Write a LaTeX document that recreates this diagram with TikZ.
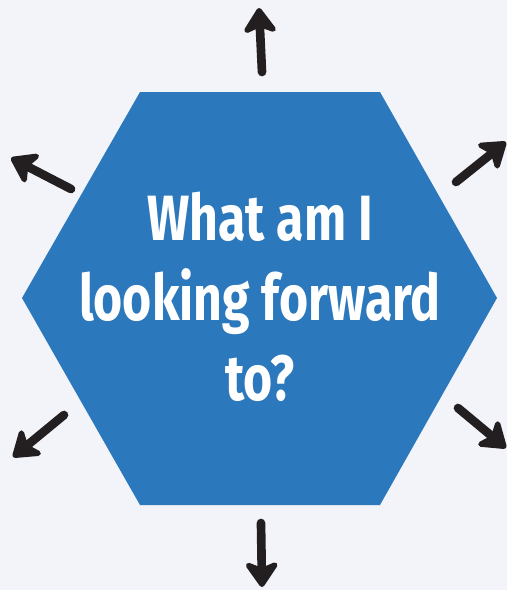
\documentclass[tikz,border=0pt]{standalone}
\usepackage{fontspec}
\usetikzlibrary{arrows.meta}
\newfontfamily\hexfont[FakeStretch=0.78]{Fira Sans}
\definecolor{bgcol}{HTML}{F3F4F9}
\definecolor{hexblue}{HTML}{2C78BD}
\definecolor{inkblack}{HTML}{231F20}
\tikzset{
  question/.style={inner sep=0pt, text=white, align=center,
    font=\hexfont\bfseries\fontsize{48}{60}\selectfont},
  outarrow/.style={draw=inkblack, line width=6.5pt, line cap=round,
    -{Stealth[length=22pt, width=30pt, inset=6pt, round]}}
}

\begin{document}
\begin{tikzpicture}[x=0.75pt, y=-0.75pt]
\fill[bgcol] (0,0) rectangle (507,590);
\useasboundingbox (0,0) rectangle (507,590);
% hexagon
\fill[hexblue] (140,92) -- (380,92) -- (497,298) -- (380,505) -- (140,505) -- (22,298) -- cycle;
\node[question] (q) at (260,297) {What am I\\looking forward\\to?};
% arrow ends
\coordinate (nT) at (262,72);
\coordinate (nH) at (259,8);
\coordinate (nwT) at (71,189);
\coordinate (nwH) at (11,158);
\coordinate (neT) at (456,182);
\coordinate (neH) at (506,142);
\coordinate (swT) at (64,415);
\coordinate (swH) at (13,457);
\coordinate (seT) at (458,408);
\coordinate (seH) at (506,448);
\coordinate (sT) at (261,523);
\coordinate (sH) at (262,587);
\draw[outarrow] (nT) -- (nH);
\draw[outarrow] (nwT) -- (nwH);
\draw[outarrow] (neT) -- (neH);
\draw[outarrow] (swT) -- (swH);
\draw[outarrow] (seT) -- (seH);
\draw[outarrow] (sT) -- (sH);
\end{tikzpicture}
\end{document}
